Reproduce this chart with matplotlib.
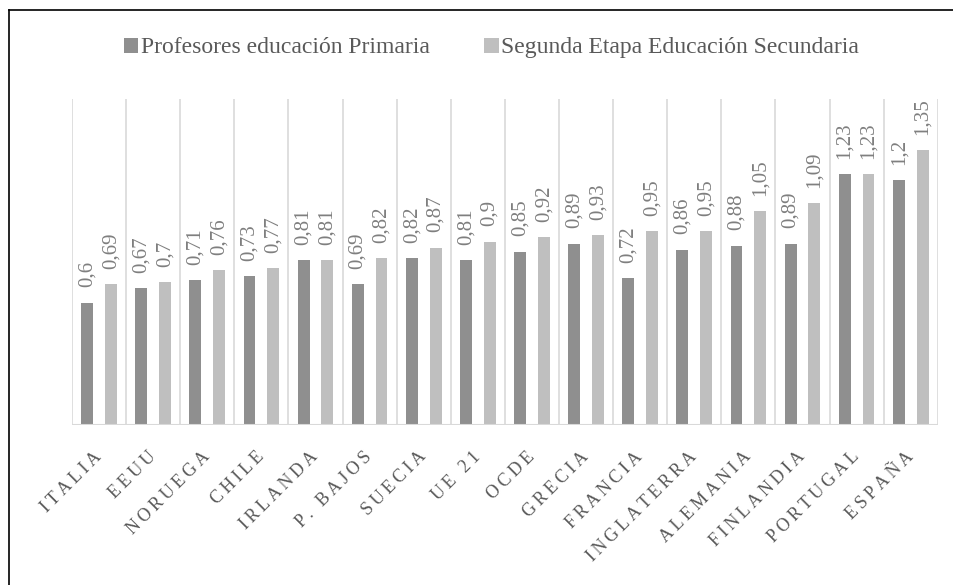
import numpy as np
import matplotlib
matplotlib.use("Agg")
import matplotlib.pyplot as plt
from matplotlib.lines import Line2D

plt.rcParams["font.family"] = ["Liberation Serif", "DejaVu Serif"]

paises = ["ITALIA", "EEUU", "NORUEGA", "CHILE", "IRLANDA", "P. BAJOS", "SUECIA",
          "UE 21", "OCDE", "GRECIA", "FRANCIA", "INGLATERRA", "ALEMANIA",
          "FINLANDIA", "PORTUGAL", "ESPAÑA"]
primaria = [0.6, 0.67, 0.71, 0.73, 0.81, 0.69, 0.82, 0.81, 0.85, 0.89,
            0.72, 0.86, 0.88, 0.89, 1.23, 1.2]
secundaria = [0.69, 0.7, 0.76, 0.77, 0.81, 0.82, 0.87, 0.9, 0.92, 0.93,
              0.95, 0.95, 1.05, 1.09, 1.23, 1.35]
series = ["Profesores educación Primaria", "Segunda Etapa Educación Secundaria"]

DARK = "#8f8f8f"
LIGHT = "#bfbfbf"
GRID = "#d9d9d9"

fig = plt.figure(figsize=(9.54, 5.85), dpi=100)
ax = fig.add_axes([0.0755, 0.2735, 0.9075, 0.5575])

x = np.arange(len(paises))
w = 0.22
b1 = ax.bar(x - w, primaria, w, color=DARK, label=series[0], zorder=2)
b2 = ax.bar(x + w, secundaria, w, color=LIGHT, label=series[1], zorder=2)


def fmt(v):
    return ("%g" % v).replace(".", ",")


for bars, vals in ((b1, primaria), (b2, secundaria)):
    for r, v in zip(bars, vals):
        ax.annotate(fmt(v), (r.get_x() + r.get_width() / 2, v),
                    xytext=(0, 11), textcoords="offset points",
                    rotation=90, ha="center", va="bottom",
                    fontsize=15, color="#7f7f7f")

ax.set_xlim(-0.5, len(paises) - 0.5)
ax.set_ylim(0, 1.6)
for b in np.arange(-0.5, len(paises), 1.0):
    ax.axvline(b, color=GRID, lw=1.2, zorder=1)
ax.axhline(0, color=GRID, lw=1.5, zorder=3)
ax.set_yticks([])
for s in ax.spines.values():
    s.set_visible(False)

spaced = ["\u2009".join(p) for p in paises]
ax.set_xticks(x)
ax.set_xticklabels(spaced, rotation=45, ha="right", va="center",
                   rotation_mode="anchor", fontsize=13, color="#595959")
ax.tick_params(axis="x", length=0, pad=21)

ax.legend(loc="center", bbox_to_anchor=(0.515, 0.918),
          bbox_transform=fig.transFigure, ncol=2, frameon=False,
          fontsize=17, handlelength=0.62, handleheight=0.62,
          handletextpad=0.1, columnspacing=2.3, labelcolor="#595959")

# frame around the chart (partly cut off in the original)
fig.add_artist(Line2D([9 / 954, 9 / 954], [0, 1 - 10 / 585],
                      transform=fig.transFigure, color="black", lw=1.2))
fig.add_artist(Line2D([9 / 954, 1], [1 - 10 / 585, 1 - 10 / 585],
                      transform=fig.transFigure, color="black", lw=1.2))

fig.savefig("out.png", dpi=100, facecolor="white")
